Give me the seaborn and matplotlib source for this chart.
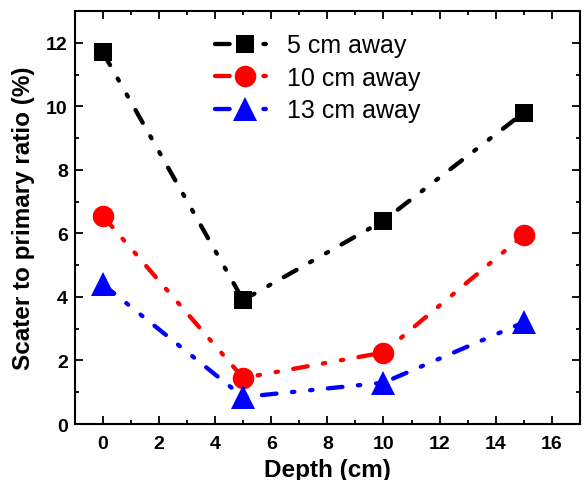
import matplotlib
matplotlib.use("Agg")
import matplotlib.pyplot as plt
import seaborn as sns
import pandas as pd
from matplotlib.ticker import MultipleLocator
from matplotlib.lines import Line2D

depth = [0, 5, 10, 15]
away_5 = [11.7, 3.9, 6.4, 9.8]
away_10 = [6.55, 1.45, 2.25, 5.95]
away_13 = [4.4, 0.85, 1.3, 3.2]
labels = ["5 cm away", "10 cm away", "13 cm away"]

sns.set_theme(style="ticks")
plt.rcParams['font.family'] = ['Liberation Sans', 'DejaVu Sans']
plt.rcParams['text.color'] = 'black'
plt.rcParams['axes.labelcolor'] = 'black'
plt.rcParams['xtick.color'] = 'black'
plt.rcParams['ytick.color'] = 'black'

fig = plt.figure(figsize=(5.84, 4.81), dpi=100)
ax = fig.add_axes([0.128, 0.1164, 0.865, 0.8586])

series = [away_5, away_10, away_13]
colors = ["black", "red", "blue"]
markers = ["s", "o", "^"]
msizes = [13.5, 15.5, 17.5]
dash = (3.4, 3.6, 0.55, 3.7, 0.55, 3.6)
lw = 3.1

handles = []
for vals, lab, c, m, ms in zip(series, labels, colors, markers, msizes):
    df = pd.DataFrame({"Depth": depth, "Ratio": vals})
    sns.lineplot(data=df, x="Depth", y="Ratio", ax=ax, color=c, lw=lw,
                 marker=m, markersize=ms, markeredgewidth=0,
                 dashes=False, legend=False)
    line = ax.get_lines()[-1]
    line.set_dashes(dash)
    line.set_dash_capstyle('round')
    handles.append(Line2D([], [], color=c, lw=lw, marker=m, markersize=ms,
                          markeredgewidth=0, dashes=dash, dash_capstyle='round'))

ax.set_xlim(-1, 17)
ax.set_ylim(0, 13)
ax.xaxis.set_major_locator(MultipleLocator(2))
ax.xaxis.set_minor_locator(MultipleLocator(1))
ax.yaxis.set_major_locator(MultipleLocator(2))
ax.yaxis.set_minor_locator(MultipleLocator(1))
ax.tick_params(which='both', direction='in', top=True, right=True, width=1.3, color='black')
ax.tick_params(which='major', length=6, labelsize=14)
ax.tick_params(axis='x', which='major', pad=8)
ax.tick_params(axis='y', which='major', pad=5)
ax.tick_params(which='minor', length=3)
for t in ax.get_xticklabels() + ax.get_yticklabels():
    t.set_fontweight('bold')
for s in ax.spines.values():
    s.set_linewidth(1.5)
    s.set_color('black')

ax.set_xlabel("Depth (cm)", fontsize=17.5, fontweight='bold', labelpad=4)
ax.set_ylabel("Scater to primary ratio (%)", fontsize=17.5, fontweight='bold', labelpad=8)

ax.legend(handles, labels, loc='upper left', bbox_to_anchor=(0.277, 0.946),
          frameon=False, fontsize=18, handlelength=2.4, handletextpad=0.5,
          labelspacing=0.34, borderpad=0, borderaxespad=0)

fig.savefig("out.png", dpi=100)
